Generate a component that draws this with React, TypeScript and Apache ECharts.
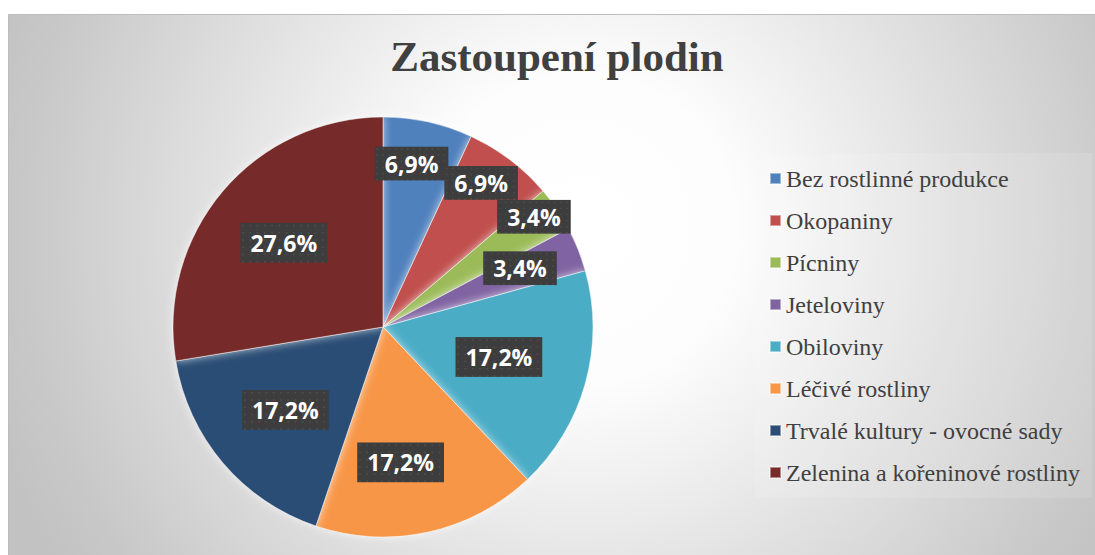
import React, { useEffect, useRef } from "react";
import * as echarts from "echarts";

const categories = [
  "Bez rostlinné produkce",
  "Okopaniny",
  "Pícniny",
  "Jeteloviny",
  "Obiloviny",
  "Léčivé rostliny",
  "Trvalé kultury - ovocné sady",
  "Zelenina a kořeninové rostliny",
];
const values = [2, 2, 1, 1, 5, 5, 5, 8];
const colors = ["#4f81bd", "#c0504d", "#9bbb59", "#8064a2", "#4bacc6", "#f79646", "#2c4d75", "#772c2a"];
// label placement: fraction of radius, angle nudge in degrees (counter-clockwise)
const labelRadiusFrac = [0.79, 0.83, 0.89, 0.71, 0.57, 0.65, 0.61, 0.62];
const labelAngleNudge = [2.5, 3, 2, 1.5, 1, -5, 0, 0];

function makePattern(): string {
  const c = document.createElement("canvas");
  c.width = 96;
  c.height = 44;
  const ctx = c.getContext("2d");
  if (!ctx) return "";
  ctx.fillStyle = "#3d3d3d";
  ctx.fillRect(0, 0, c.width, c.height);
  ctx.fillStyle = "#4b4b4b";
  for (let y = 2; y < c.height; y += 8) {
    for (let x = 2; x < c.width; x += 8) {
      ctx.fillRect(x, y, 2, 2);
    }
  }
  return c.toDataURL();
}

export default function App() {
  const ref = useRef<HTMLDivElement>(null);
  useEffect(() => {
    if (!ref.current) return;
    const chart = echarts.init(ref.current, undefined, { renderer: "svg" });
    const total = values.reduce((a, b) => a + b, 0);
    const R = 210;
    const CX = 383;
    const CY = 327;
    let acc = 0;
    const labelPos = values.map((v, i) => {
      const mid = 90 - ((acc + v / 2) / total) * 360 + labelAngleNudge[i];
      acc += v;
      const rad = (mid * Math.PI) / 180;
      const rr = labelRadiusFrac[i] * R;
      return [CX + rr * Math.cos(rad), CY - rr * Math.sin(rad)];
    });
    const pattern = makePattern();
    const data = values.map((v, i) => ({
      name: categories[i],
      value: v,
      itemStyle: { color: colors[i] },
    }));
    chart.setOption({
      animation: false,
      graphic: [
        {
          type: "rect",
          silent: true,
          z: -10,
          shape: { x: 8.5, y: 14.5, width: 1090, height: 545 },
          style: {
            fill: {
              type: "radial",
              x: 580,
              y: 230,
              r: 620,
              global: true,
              colorStops: [
                { offset: 0, color: "#ffffff" },
                { offset: 0.25, color: "#fdfdfd" },
                { offset: 0.9, color: "#c8c8c8" },
                { offset: 1, color: "#c2c2c2" },
              ],
            },
            stroke: "#bdbdbd",
            lineWidth: 1,
          },
        },
      ],
      title: {
        text: "Zastoupení plodin",
        left: 552,
        textAlign: "center",
        top: 30,
        textStyle: {
          fontFamily: "Liberation Serif",
          fontWeight: "bold",
          fontSize: 43,
          color: "#404040",
        },
      },
      legend: {
        orient: "vertical",
        left: 755,
        top: 153,
        padding: [12, 12, 12, 14],
        backgroundColor: "rgba(255,255,255,0.12)",
        itemWidth: 11,
        itemHeight: 11,
        itemGap: 15,
        icon: "rect",
        data: categories,
        textStyle: {
          fontFamily: "Liberation Serif",
          fontSize: 24,
          lineHeight: 27,
          color: "#404040",
        },
      },
      series: [
        {
          type: "pie",
          center: [CX, CY],
          radius: [0, R],
          startAngle: 90,
          clockwise: true,
          avoidLabelOverlap: false,
          itemStyle: {
            borderColor: "rgba(255,255,255,0.45)",
            borderWidth: 1,
            shadowColor: "rgba(255,255,255,0.7)",
            shadowBlur: 8,
          },
          label: {
            show: true,
            position: "outside",
            formatter: (p: any) =>
              ((values[p.dataIndex] / total) * 100).toFixed(1).replace(".", ",") + "%",
            fontFamily: "Open Sans",
            fontWeight: "bold",
            fontSize: 23,
            lineHeight: 26,
            color: "#ffffff",
            padding: [7, 10],
            backgroundColor: pattern ? { image: pattern } : "#3d3d3d",
            shadowColor: "rgba(0,0,0,0.55)",
            shadowBlur: 6,
            shadowOffsetX: 3,
            shadowOffsetY: 3,
          },
          labelLine: { show: false },
          labelLayout: (params: any) => {
            const p = labelPos[params.dataIndex];
            return { x: p[0], y: p[1], align: "center", verticalAlign: "middle" };
          },
          emphasis: { disabled: true },
          data,
        },
      ],
    });
    return () => chart.dispose();
  }, []);
  return (
    <div
      ref={ref}
      style={{ position: "absolute", left: 0, top: 0, width: 1095, height: 555 }}
    />
  );
}
